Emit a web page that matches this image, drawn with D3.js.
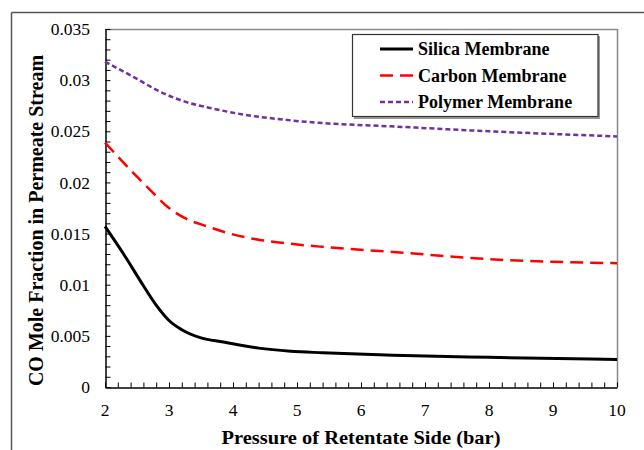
<!DOCTYPE html>
<html>
<head>
<meta charset="utf-8">
<script src="https://cdn.jsdelivr.net/npm/d3@7"></script>
<style>
  body { margin: 0; background: #fff; }
  svg text { font-family: "Liberation Serif", "Times New Roman", serif; }
</style>
</head>
<body>
<svg id="chart"></svg>
<script>
// Values
const pressure = [2, 3, 4, 5, 6, 7, 8, 9, 10];
const silicaX = [2, 2.3, 2.6, 2.8, 3, 3.2, 3.5, 3.85, 4.1, 4.4, 4.9, 5.4, 6.5, 8, 10];
const silicaY = [0.0157, 0.0129, 0.0099, 0.0080, 0.0065, 0.0056, 0.0048, 0.0044, 0.0041, 0.0038, 0.0035, 0.00335, 0.0031, 0.0029, 0.0027];
const carbonX = [2, 2.4, 2.7, 3, 3.25, 3.6, 3.95, 4.4, 4.9, 5.4, 6.5, 8, 10];
const carbonY = [0.0239, 0.0212, 0.0193, 0.0175, 0.0165, 0.0157, 0.0150, 0.0144, 0.0140, 0.0137, 0.0132, 0.0125, 0.0121];
const polymerX = [2, 2.45, 2.85, 3.2, 3.7, 4.2, 4.7, 5.4, 6.4, 8, 10];
const polymerY = [0.0318, 0.0303, 0.0289, 0.0280, 0.0272, 0.0266, 0.0262, 0.0258, 0.0255, 0.0250, 0.0245];
const yTicks = [0, 0.005, 0.01, 0.015, 0.02, 0.025, 0.03, 0.035];
const yTickLabels = ["0", "0.005", "0.01", "0.015", "0.02", "0.025", "0.03", "0.035"];
const seriesNames = ["Silica Membrane", "Carbon Membrane", "Polymer Membrane"];

let width = 644, height = 450;
let plotLeft = 105, plotRight = 617, plotTop = 29, plotBottom = 387;

let svg = d3.select('#chart').attr('width', width).attr('height', height);

// outer frame (only top and left edges show)
svg.append('line').attr('x1', 11.5).attr('x2', width).attr('y1', 12.5).attr('y2', 12.5)
  .style('stroke', '#555').style('stroke-width', 1.5);
svg.append('line').attr('x1', 11.5).attr('x2', 11.5).attr('y1', 12.5).attr('y2', height)
  .style('stroke', '#555').style('stroke-width', 1.5);

let xScale = d3.scaleLinear().domain([2, 10]).range([plotLeft, plotRight]);
let yScale = d3.scaleLinear().domain([0, 0.035]).range([plotBottom, plotTop]);

// gray plot frame top and right
svg.append('line').attr('x1', plotLeft).attr('x2', plotRight + 0.5).attr('y1', plotTop + 0.5).attr('y2', plotTop + 0.5)
  .style('stroke', '#888').style('stroke-width', 1.5);
svg.append('line').attr('x1', plotRight + 0.5).attr('x2', plotRight + 0.5).attr('y1', plotTop).attr('y2', plotBottom)
  .style('stroke', '#888').style('stroke-width', 1.5);

// minor + major ticks, drawn inside
let xAxis = svg.append('g')
  .attr('transform', `translate(0,${plotBottom + 0.5})`)
  .call(d3.axisBottom(xScale).tickValues(d3.range(2, 10.01, 0.2)).tickSize(-5).tickSizeOuter(0).tickFormat(''));
let yAxis = svg.append('g')
  .attr('transform', `translate(${plotLeft + 0.5},0)`)
  .call(d3.axisLeft(yScale).tickValues(d3.range(0, 0.03501, 0.001)).tickSize(-5).tickSizeOuter(0).tickFormat(''));
svg.selectAll('.domain').style('stroke', '#000').style('stroke-width', 1.5);
svg.selectAll('.tick line').style('stroke', '#000');

// tick labels
svg.append('g').selectAll('text').data(pressure).enter().append('text')
  .attr('x', d => xScale(d)).attr('y', 416)
  .attr('text-anchor', 'middle').style('font-size', '17.5px').text(d => d);
svg.append('g').selectAll('text').data(yTicks).enter().append('text')
  .attr('x', 90).attr('y', d => yScale(d)).attr('dy', '0.35em')
  .attr('text-anchor', 'end').style('font-size', '17.5px').text((d, i) => yTickLabels[i]);

// axis titles
svg.append('text')
  .attr('x', (plotLeft + plotRight) / 2).attr('y', 444)
  .attr('text-anchor', 'middle').style('font-size', '19px').style('font-weight', 'bold')
  .attr('textLength', 279).attr('lengthAdjust', 'spacingAndGlyphs')
  .text('Pressure of Retentate Side (bar)');
svg.append('text')
  .attr('transform', 'translate(43,220.5) rotate(-90)')
  .attr('text-anchor', 'middle').style('font-size', '20px').style('font-weight', 'bold')
  .text('CO Mole Fraction in Permeate Stream');

// lines
let styles = [
  { color: '#000000', width: 3, dash: null },
  { color: '#FF0000', width: 2.5, dash: '13,7' },
  { color: '#7030A0', width: 2.5, dash: '5,3' }
];
let allSeries = [
  d3.zip(silicaX, silicaY),
  d3.zip(carbonX, carbonY),
  d3.zip(polymerX, polymerY)
];
let line = d3.line()
  .x(d => xScale(d[0]))
  .y(d => yScale(d[1]))
  .curve(d3.curveMonotoneX);

svg.append('g').selectAll('path').data(allSeries).enter().append('path')
  .attr('d', line)
  .style('fill', 'none')
  .style('stroke', (d, i) => styles[i].color)
  .style('stroke-width', (d, i) => styles[i].width)
  .style('stroke-dasharray', (d, i) => styles[i].dash);

// legend
let legend = svg.append('g');
legend.append('rect').attr('x', 354).attr('y', 36).attr('width', 246).attr('height', 83)
  .style('fill', '#999');
legend.append('rect').attr('x', 352.5).attr('y', 34.5).attr('width', 245.5).attr('height', 82)
  .style('fill', '#fff').style('stroke', '#333').style('stroke-width', 1.2);
let legendY = [49, 75.5, 102];
seriesNames.forEach((name, i) => {
  legend.append('line')
    .attr('x1', 380).attr('x2', 413).attr('y1', legendY[i]).attr('y2', legendY[i])
    .style('stroke', styles[i].color)
    .style('stroke-width', styles[i].width)
    .style('stroke-dasharray', styles[i].dash);
  legend.append('text')
    .attr('x', 418).attr('y', legendY[i]).attr('dy', '0.35em')
    .style('font-size', '18px').style('font-weight', 'bold')
    .text(name);
});
</script>
</body>
</html>
